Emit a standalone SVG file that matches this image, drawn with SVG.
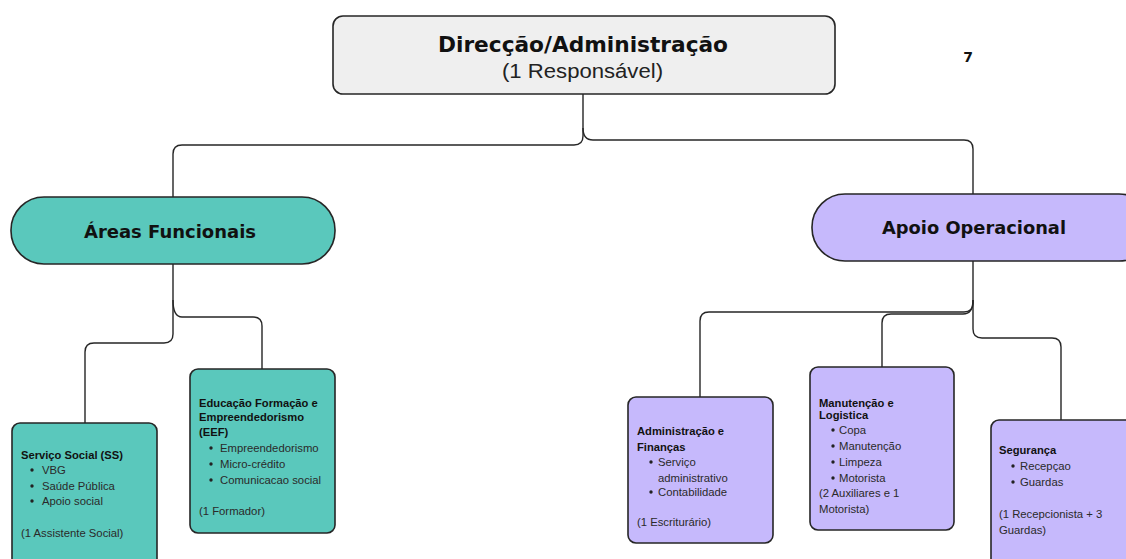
<svg xmlns="http://www.w3.org/2000/svg" width="1126" height="559" viewBox="0 0 1126 559">
<style>
.node{stroke:#262626;stroke-width:1.6}
.top{fill:#efefef}
.teal{fill:#5ac8bc}
.purple{fill:#c6b9fc}
.conn{fill:none;stroke:#262626;stroke-width:1.4}
text{font-family:"Liberation Sans",Arial,sans-serif;fill:#111}
.h1{font-family:"DejaVu Sans","Liberation Sans",sans-serif;font-size:21px;font-weight:bold}
.sub{font-size:20px;fill:#222}
.h2{font-family:"DejaVu Sans","Liberation Sans",sans-serif;font-size:18px;font-weight:bold}
.b{font-size:11.2px;font-weight:bold}
.t{font-size:11.3px;fill:#2a2a2a}
.num{font-family:"DejaVu Sans","Liberation Sans",sans-serif;font-size:14px;font-weight:bold}
</style>
<rect width="1126" height="559" fill="#ffffff"/>
<g id="connectors">
<path class="conn" d="M583,94 V136 Q583,145 574,145 H182 Q173,145 173,154 V198"/>
<path class="conn" d="M583,128 Q583,140 593,140 H964 Q973,140 973,149 V194"/>
<path class="conn" d="M173,264 V334 Q173,343 164,343 H94 Q85,343 85,352 V423"/>
<path class="conn" d="M173,300 Q173,317 182,317 H253 Q262,317 262,326 V369"/>
<path class="conn" d="M973,261 V303 Q973,312 964,312 H709 Q700,312 700,321 V397"/>
<path class="conn" d="M973,300 Q973,314 963,314 H891 Q882,314 882,323 V367"/>
<path class="conn" d="M973,300 V329 Q973,338 982,338 H1052 Q1061,338 1061,347 V420"/>
</g>
<g id="direccao">
<rect class="node top" x="333" y="16" width="502" height="78" rx="10"/>
<text class="h1" x="438" y="52" textLength="290" lengthAdjust="spacingAndGlyphs">Direcção/Administração</text>
<text class="sub" x="502" y="78" textLength="161" lengthAdjust="spacingAndGlyphs">(1 Responsável)</text>
</g>
<text id="page-number" class="num" x="968" y="62" text-anchor="middle">7</text>
<g id="areas-funcionais">
<rect class="node teal" x="11" y="197" width="324" height="67" rx="33"/>
<text class="h2" x="84" y="238" textLength="172" lengthAdjust="spacingAndGlyphs">Áreas Funcionais</text>
</g>
<g id="apoio-operacional">
<rect class="node purple" x="812" y="194" width="340" height="67" rx="33"/>
<text class="h2" x="882" y="234" textLength="184" lengthAdjust="spacingAndGlyphs">Apoio Operacional</text>
</g>
<g id="servico-social">
<rect class="node teal" x="12" y="423" width="145" height="150" rx="8"/>
<text class="b" x="21" y="459">Serviço Social (SS)</text>
<circle cx="32" cy="470" r="1.7" fill="#222"/><text class="t" x="42" y="474">VBG</text>
<circle cx="32" cy="486" r="1.7" fill="#222"/><text class="t" x="42" y="490">Saúde Pública</text>
<circle cx="32" cy="501" r="1.7" fill="#222"/><text class="t" x="42" y="505">Apoio social</text>
<text class="t" x="21" y="537">(1 Assistente Social)</text>
</g>
<g id="eef">
<rect class="node teal" x="190" y="369" width="145" height="164" rx="8"/>
<text class="b" x="199" y="407">Educação Formação e</text>
<text class="b" x="199" y="421">Empreendedorismo</text>
<text class="b" x="199" y="436">(EEF)</text>
<circle cx="211" cy="448" r="1.7" fill="#222"/><text class="t" x="220" y="452">Empreendedorismo</text>
<circle cx="211" cy="464" r="1.7" fill="#222"/><text class="t" x="220" y="468">Micro-crédito</text>
<circle cx="211" cy="480" r="1.7" fill="#222"/><text class="t" x="220" y="484">Comunicacao social</text>
<text class="t" x="199" y="515">(1 Formador)</text>
</g>
<g id="administracao-financas">
<rect class="node purple" x="628" y="397" width="145" height="146" rx="8"/>
<text class="b" x="637" y="435">Administração e</text>
<text class="b" x="637" y="451">Finanças</text>
<circle cx="651" cy="462" r="1.7" fill="#222"/><text class="t" x="658" y="466">Serviço</text>
<text class="t" x="658" y="482">administrativo</text>
<circle cx="651" cy="492" r="1.7" fill="#222"/><text class="t" x="658" y="496">Contabilidade</text>
<text class="t" x="637" y="526">(1 Escriturário)</text>
</g>
<g id="manutencao-logistica">
<rect class="node purple" x="810" y="367" width="144" height="163" rx="8"/>
<text class="b" x="819" y="407">Manutenção e</text>
<text class="b" x="819" y="419">Logistica</text>
<circle cx="833" cy="430" r="1.7" fill="#222"/><text class="t" x="839" y="434">Copa</text>
<circle cx="833" cy="446" r="1.7" fill="#222"/><text class="t" x="839" y="450">Manutenção</text>
<circle cx="833" cy="462" r="1.7" fill="#222"/><text class="t" x="839" y="466">Limpeza</text>
<circle cx="833" cy="478" r="1.7" fill="#222"/><text class="t" x="839" y="482">Motorista</text>
<text class="t" x="819" y="497">(2 Auxiliares e 1</text>
<text class="t" x="819" y="513">Motorista)</text>
</g>
<g id="seguranca">
<rect class="node purple" x="991" y="420" width="150" height="150" rx="8"/>
<text class="b" x="999" y="454">Segurança</text>
<circle cx="1013" cy="466" r="1.7" fill="#222"/><text class="t" x="1020" y="470">Recepçao</text>
<circle cx="1013" cy="482" r="1.7" fill="#222"/><text class="t" x="1020" y="486">Guardas</text>
<text class="t" x="999" y="518">(1 Recepcionista + 3</text>
<text class="t" x="999" y="534">Guardas)</text>
</g>
</svg>
